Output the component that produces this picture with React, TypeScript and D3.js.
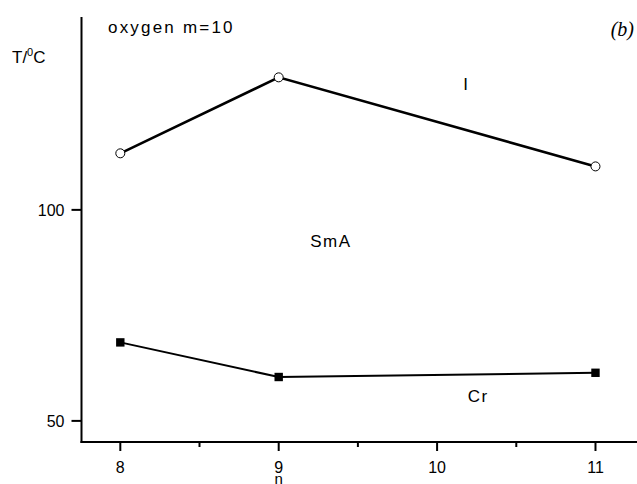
import React, { useEffect, useRef } from 'react';
import * as d3 from 'd3';

// chain length n
const nValues = [8, 9, 11];
// clearing point SmA -> I (open circles)
const isoTemps = [113.4, 131.4, 110.3];
// melting point Cr -> SmA (filled squares)
const meltTemps = [68.6, 60.4, 61.4];

const xTicks = [8, 9, 10, 11];
const xMinorTicks = [8.5, 9.5, 10.5];
const yTicks = [50, 100];

const WIDTH = 637;
const HEIGHT = 484;

function App() {
    const ref = useRef(null);

    useEffect(() => {
        drawChart();
    }, []);

    function drawChart() {
        const svg = d3.select(ref.current);
        svg.selectAll('*').remove();

        const font = 'Liberation Sans, Arial, sans-serif';

        const xScale = d3.scaleLinear()
            .domain([7.755, 11.3])
            .range([81.5, 643]);

        const yScale = d3.scaleLinear()
            .domain([45, 145.7])
            .range([442, 17]);

        // axis lines
        svg.append('line')
            .attr('x1', xScale(7.755)).attr('x2', xScale(7.755))
            .attr('y1', yScale(145.7)).attr('y2', yScale(45) + 1)
            .attr('stroke', '#000').attr('stroke-width', 2);
        svg.append('line')
            .attr('x1', xScale(7.755) - 1).attr('x2', xScale(11.3))
            .attr('y1', yScale(45)).attr('y2', yScale(45))
            .attr('stroke', '#000').attr('stroke-width', 2);

        // x ticks
        svg.selectAll('.xtick')
            .data(xTicks)
            .enter().append('line')
            .attr('x1', d => xScale(d)).attr('x2', d => xScale(d))
            .attr('y1', yScale(45)).attr('y2', yScale(45) + 9)
            .attr('stroke', '#000').attr('stroke-width', 2);
        svg.selectAll('.xminor')
            .data(xMinorTicks)
            .enter().append('line')
            .attr('x1', d => xScale(d)).attr('x2', d => xScale(d))
            .attr('y1', yScale(45)).attr('y2', yScale(45) + 5)
            .attr('stroke', '#000').attr('stroke-width', 2);
        svg.selectAll('.xlabel')
            .data(xTicks)
            .enter().append('text')
            .attr('x', d => xScale(d))
            .attr('y', yScale(45) + 31)
            .attr('text-anchor', 'middle')
            .attr('font-family', font)
            .attr('font-size', 16)
            .text(d => d);

        // y ticks
        svg.selectAll('.ytick')
            .data(yTicks)
            .enter().append('line')
            .attr('x1', xScale(7.755) - 10).attr('x2', xScale(7.755))
            .attr('y1', d => yScale(d)).attr('y2', d => yScale(d))
            .attr('stroke', '#000').attr('stroke-width', 2);
        svg.selectAll('.ylabel')
            .data(yTicks)
            .enter().append('text')
            .attr('x', xScale(7.755) - 17)
            .attr('y', d => yScale(d) + 6)
            .attr('text-anchor', 'end')
            .attr('font-family', font)
            .attr('font-size', 16)
            .text(d => d);

        // axis titles
        svg.append('text')
            .attr('x', xScale(9))
            .attr('y', 484)
            .attr('text-anchor', 'middle')
            .attr('font-family', font)
            .attr('font-size', 15)
            .text('n');

        const yTitle = svg.append('text')
            .attr('x', 12)
            .attr('y', 63)
            .attr('font-family', font)
            .attr('font-size', 17);
        yTitle.append('tspan').text('T/');
        yTitle.append('tspan').attr('font-size', 11).attr('dy', -7).text('0');
        yTitle.append('tspan').attr('dy', 7).text('C');

        svg.append('text')
            .attr('x', 108)
            .attr('y', 33)
            .attr('font-family', font)
            .attr('font-size', 17)
            .attr('letter-spacing', 2.2)
            .text('oxygen m=10');

        svg.append('text')
            .attr('x', 634)
            .attr('y', 36)
            .attr('text-anchor', 'end')
            .attr('font-family', 'Liberation Serif, Times New Roman, serif')
            .attr('font-style', 'italic')
            .attr('font-size', 20)
            .text('(b)');

        // phase labels
        const phaseLabels = [
            { t: 'I', x: 10.185, y: 128.4 },
            { t: 'SmA', x: 9.33, y: 91.2 },
            { t: 'Cr', x: 10.26, y: 54.5 },
        ];
        svg.selectAll('.phase')
            .data(phaseLabels)
            .enter().append('text')
            .attr('x', d => xScale(d.x))
            .attr('y', d => yScale(d.y))
            .attr('text-anchor', 'middle')
            .attr('font-family', font)
            .attr('font-size', 17)
            .attr('letter-spacing', 1.5)
            .text(d => d.t);

        const isoData = nValues.map((n, i) => ({ x: n, y: isoTemps[i] }));
        const meltData = nValues.map((n, i) => ({ x: n, y: meltTemps[i] }));

        const line = d3.line()
            .x(d => xScale(d.x))
            .y(d => yScale(d.y));

        svg.append('path')
            .datum(isoData)
            .attr('fill', 'none')
            .attr('stroke', '#000')
            .attr('stroke-width', 2.6)
            .attr('d', line);

        svg.append('path')
            .datum(meltData)
            .attr('fill', 'none')
            .attr('stroke', '#000')
            .attr('stroke-width', 2)
            .attr('d', line);

        svg.selectAll('.iso')
            .data(isoData)
            .enter().append('circle')
            .attr('cx', d => xScale(d.x))
            .attr('cy', d => yScale(d.y))
            .attr('r', 4.5)
            .attr('fill', '#fff')
            .attr('stroke', '#000')
            .attr('stroke-width', 1);

        svg.selectAll('.melt')
            .data(meltData)
            .enter().append('rect')
            .attr('x', d => xScale(d.x) - 4.2)
            .attr('y', d => yScale(d.y) - 4.2)
            .attr('width', 8.4)
            .attr('height', 8.4)
            .attr('fill', '#000');
    }

    return (
        <svg
            ref={ref}
            width={WIDTH}
            height={HEIGHT}
            style={{ position: 'absolute', left: 0, top: 0, background: '#fff' }}
        />
    );
}

export default App;
